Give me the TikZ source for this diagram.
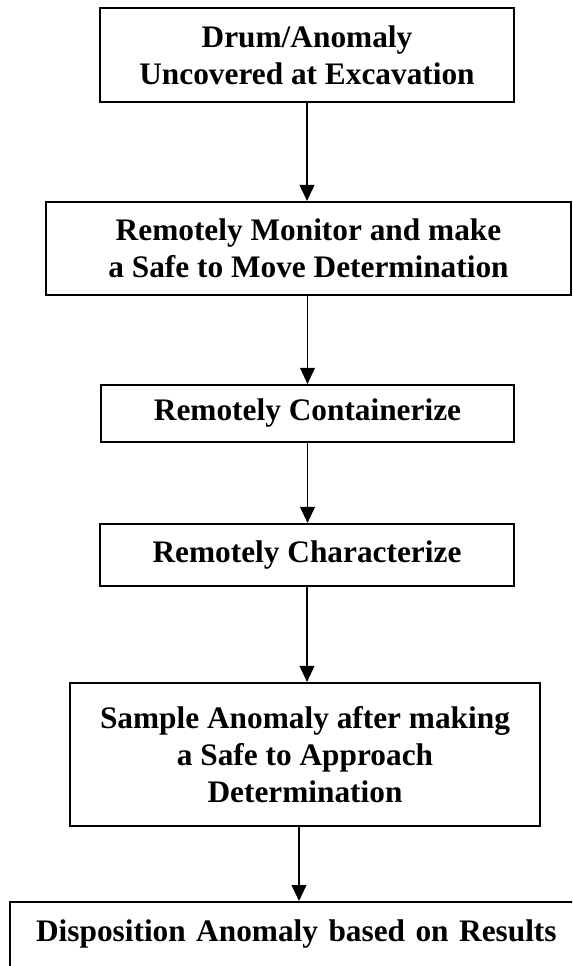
\documentclass[tikz,border=0pt]{standalone}
\usepackage{fontspec}
\setmainfont{Liberation Serif}
\usetikzlibrary{arrows.meta}

\begin{document}
\begin{tikzpicture}[x=0.75pt, y=-0.75pt,
  every node/.style={font=\fontsize{23.5}{27.5}\selectfont\bfseries},
  stage/.style={draw, line width=1.6pt, align=center, inner sep=0pt},
  flow/.style={line width=1.4pt, -{Triangle[length=12pt, width=11pt]}}]

\useasboundingbox (0,0) rectangle (572,966);
\clip (0,0) rectangle (572,966);

% centre line of the chain
\def\xc{307}

\node[stage, minimum width=310.5pt, minimum height=70.5pt] (uncover) at (\xc,55)
  {Drum/Anomaly\\Uncovered at Excavation};
\node[stage, minimum width=393.75pt, minimum height=69.75pt] (monitor) at (308.5,248.5)
  {Remotely Monitor and make\\a Safe to Move Determination};
\node[stage, minimum width=309.75pt, minimum height=42.75pt] (contain) at (307.5,413.5)
  {Remotely Containerize};
\node[stage, minimum width=310.5pt, minimum height=46.5pt] (charact) at (\xc,555)
  {Remotely Characterize};
\node[stage, minimum width=352.5pt, minimum height=107.25pt] (sample) at (305,754.5)
  {Sample Anomaly after making\\a Safe to Approach\\Determination};

% last box runs off the page to the right and below
\node[stage, anchor=north west, align=left, text width=600pt, inner xsep=19.5pt,
  inner ysep=0pt, text height=29.25pt, text depth=45pt] (dispose) at (9,901)
  {Disposition Anomaly based on Results};

\draw[flow] (uncover.south) -- (uncover.south |- monitor.north);
\draw[flow] (monitor.south -| contain) -- (contain.north);
\draw[flow] (contain.south) -- (contain.south |- charact.north);
\draw[flow] (charact.south) -- (charact.south |- sample.north);
\draw[flow] ([xshift=-4.5pt]sample.south) -- ([xshift=-4.5pt]sample.south |- dispose.north);

\end{tikzpicture}
\end{document}
